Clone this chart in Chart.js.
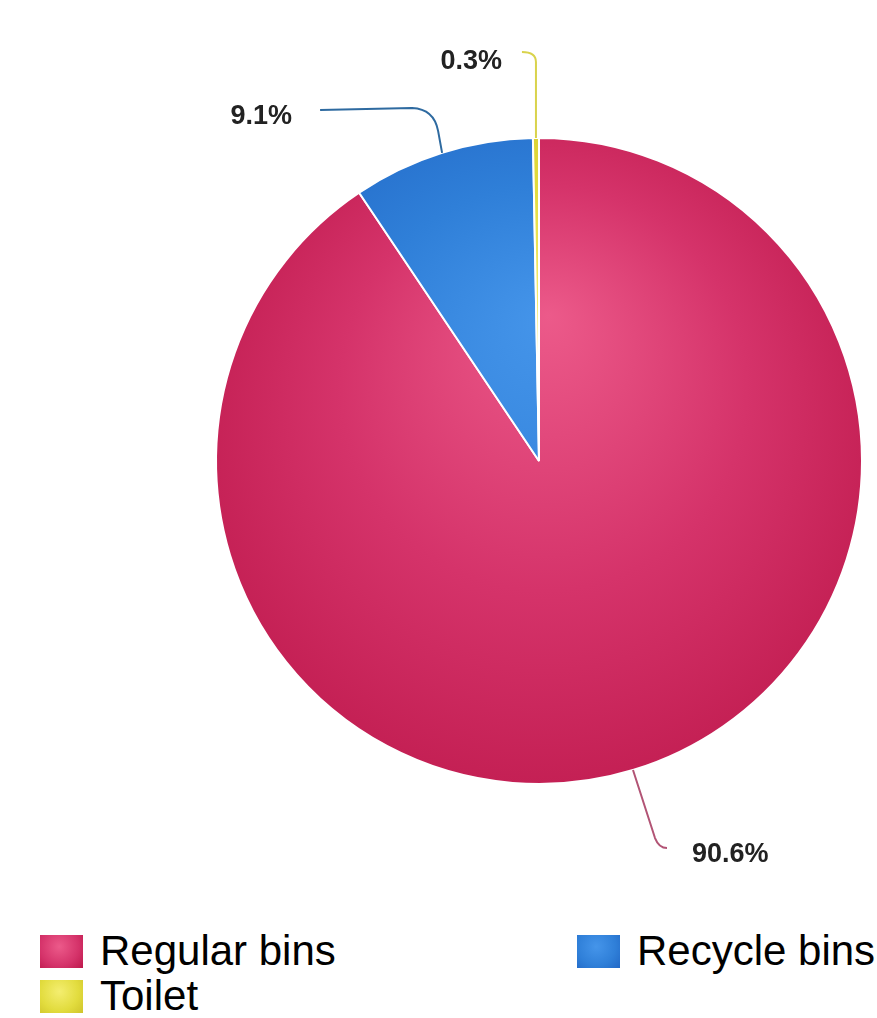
<!DOCTYPE html>
<html>
<head>
<meta charset="utf-8">
<script src="https://cdn.jsdelivr.net/npm/chart.js@4.4.1/dist/chart.umd.min.js"></script>
<style>
  body { margin: 0; background: #fff; font-family: "Liberation Sans", Arial, sans-serif; }
  #wrap { position: relative; width: 877px; height: 1018px; }
  #chartBox { position: absolute; left: 0; top: 0; width: 877px; height: 900px; }
  .legend-item { position: absolute; display: flex; align-items: center; font-size: 42px; color: #000; line-height: 1; }
  .legend-item .swatch { width: 43px; height: 33px; margin-right: 17px; }
</style>
</head>
<body>
<div id="wrap">
  <div id="chartBox"><canvas id="wastePie"></canvas></div>
  <div id="legend"></div>
</div>
<script>
const labels = ["Regular bins", "Recycle bins", "Toilet"];
const shares = [90.6, 9.1, 0.3];
const colors = ["#d5336a", "#2f7fd8", "#e2dc3e"];
const lightColors = ["#ec5a8a", "#4595ea", "#f4ee70"];
const darkColors = ["#bd184b", "#2268c6", "#cfc42a"];
const leaderColors = ["#b25475", "#2e6aa0", "#d9d34c"];

// leader line + label placement relative to each slice's outer edge midpoint
const leaders = [
  { path: [["L", 22, 68], ["Q", 26, 78, 34, 78]], label: [59, 85], align: "left" },
  { path: [["L", -4, -22], ["Q", -8, -44, -30, -45], ["L", -122, -43]], label: [-150, -36], align: "right" },
  { path: [["L", 0, -76], ["Q", 0, -86, -14, -86]], label: [-34, -76], align: "right" },
];

function sliceFill(ctx) {
  const chart = ctx.chart;
  const area = chart.chartArea;
  const i = ctx.dataIndex;
  if (!area) return colors[i];
  const cx = (area.left + area.right) / 2;
  const cy = (area.top + area.bottom) / 2;
  const r = Math.min(area.right - area.left, area.bottom - area.top) / 2;
  const g = chart.ctx.createRadialGradient(cx + 10, cy - r * 0.45, 0, cx, cy, r * 1.25);
  g.addColorStop(0, lightColors[i]);
  g.addColorStop(0.5, colors[i]);
  g.addColorStop(1, darkColors[i]);
  return g;
}

const leaderPlugin = {
  id: "leaderLabels",
  afterDraw(chart) {
    const c = chart.ctx;
    const arcs = chart.getDatasetMeta(0).data;
    arcs.forEach((arc, i) => {
      const p = arc.getProps(["x", "y", "startAngle", "endAngle", "outerRadius"], true);
      const mid = (p.startAngle + p.endAngle) / 2;
      const ex = p.x + Math.cos(mid) * p.outerRadius;
      const ey = p.y + Math.sin(mid) * p.outerRadius;
      const spec = leaders[i];
      c.save();
      c.strokeStyle = leaderColors[i];
      c.lineWidth = 2;
      c.beginPath();
      c.moveTo(ex, ey);
      spec.path.forEach(s => {
        if (s[0] === "L") c.lineTo(ex + s[1], ey + s[2]);
        else c.quadraticCurveTo(ex + s[1], ey + s[2], ex + s[3], ey + s[4]);
      });
      c.stroke();
      c.fillStyle = "#222";
      c.font = "bold 27px 'Liberation Sans', Arial, sans-serif";
      c.textAlign = spec.align;
      c.textBaseline = "middle";
      c.fillText(shares[i].toFixed(1) + "%", ex + spec.label[0], ey + spec.label[1]);
      c.restore();
    });
  },
};

new Chart(document.getElementById("wastePie"), {
  type: "pie",
  data: {
    labels: labels,
    datasets: [
      {
        data: shares,
        backgroundColor: sliceFill,
        borderColor: "#ffffff",
        borderWidth: 2,
      },
    ],
  },
  options: {
    responsive: true,
    maintainAspectRatio: false,
    animation: false,
    layout: {
      padding: { top: 137, bottom: 115, left: 215, right: 14 },
    },
    plugins: {
      legend: { display: false },
      tooltip: { enabled: false },
    },
  },
  plugins: [leaderPlugin],
});

// legend under the pie
const legendSpots = [
  { left: 40, top: 930 },
  { left: 577, top: 930 },
  { left: 40, top: 975 },
];
const legendEl = document.getElementById("legend");
labels.forEach((name, i) => {
  const item = document.createElement("div");
  item.className = "legend-item";
  item.style.left = legendSpots[i].left + "px";
  item.style.top = legendSpots[i].top + "px";
  const sw = document.createElement("span");
  sw.className = "swatch";
  sw.style.background = `radial-gradient(circle at 45% 35%, ${lightColors[i]}, ${colors[i]} 60%, ${darkColors[i]})`;
  const txt = document.createElement("span");
  txt.textContent = name;
  item.appendChild(sw);
  item.appendChild(txt);
  legendEl.appendChild(item);
});
</script>
</body>
</html>
